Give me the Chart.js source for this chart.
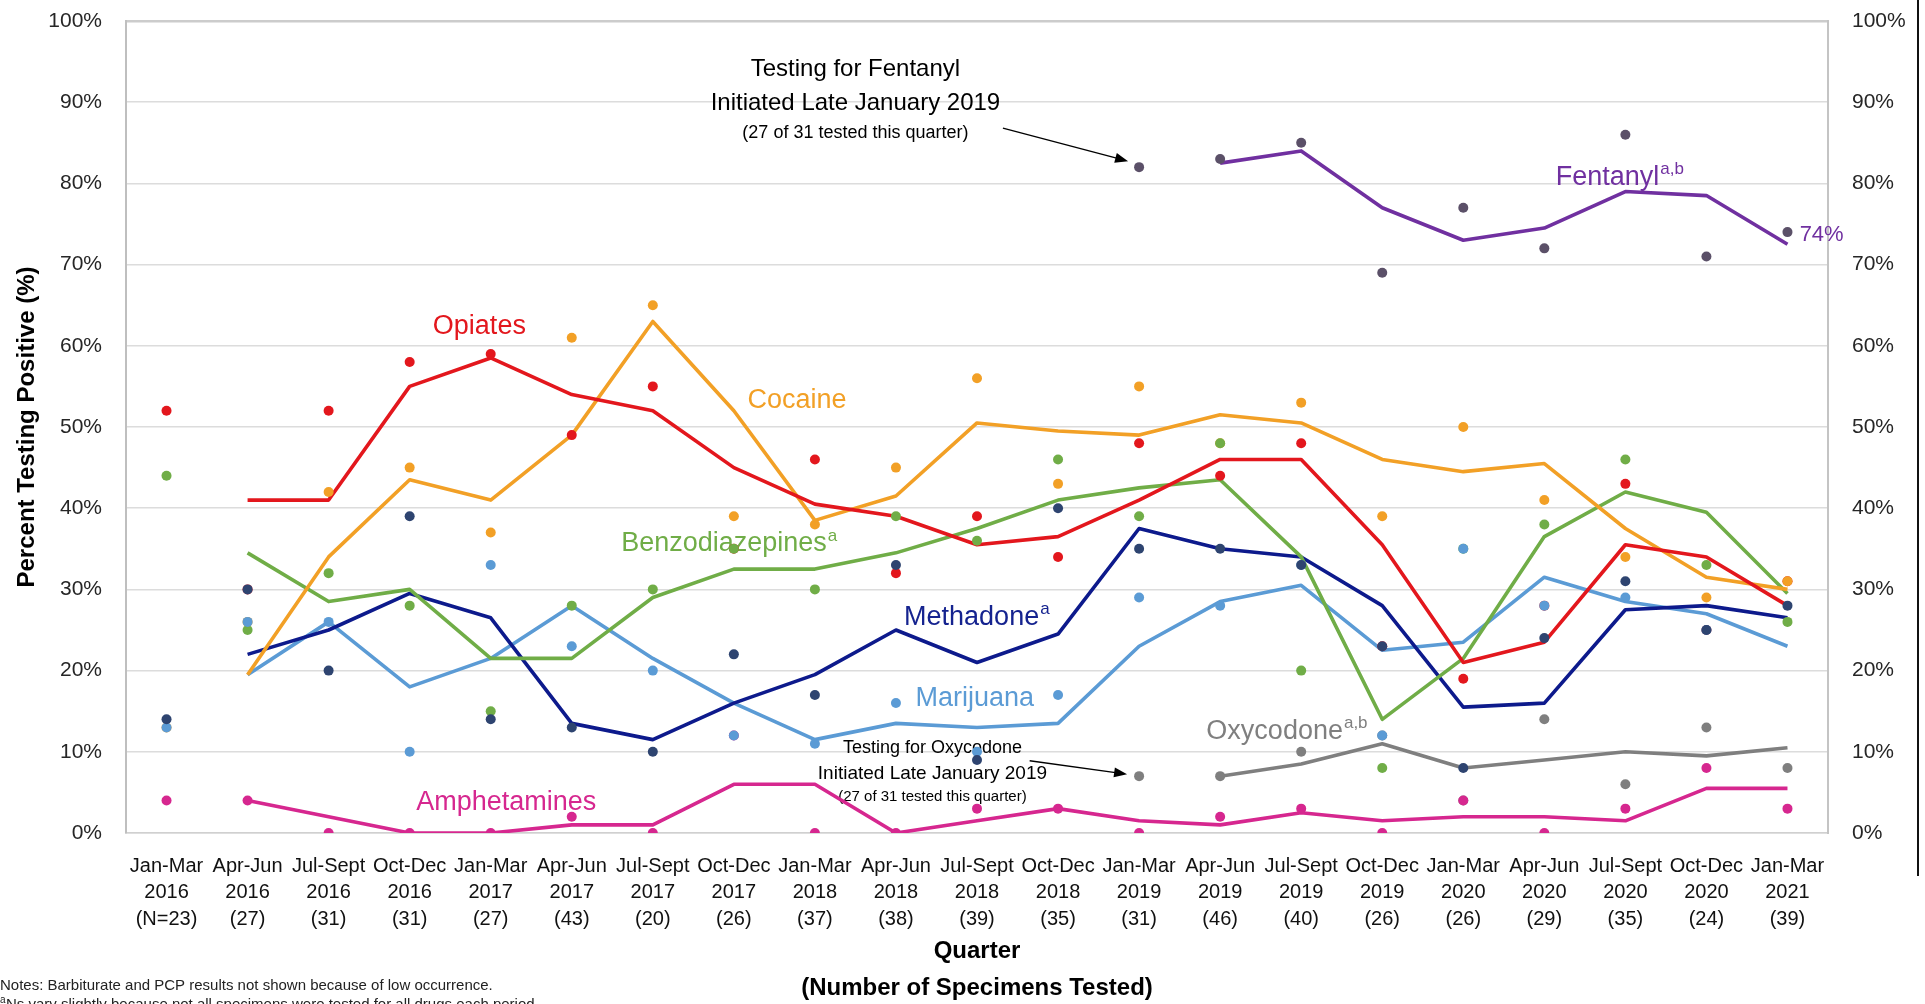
<!DOCTYPE html>
<html>
<head>
<meta charset="utf-8">
<title>Percent Testing Positive by Quarter</title>
<script src="https://cdn.jsdelivr.net/npm/chart.js@4.4.1/dist/chart.umd.min.js"></script>
<style>
  html, body { margin: 0; padding: 0; background: #fff; }
  #wrap { position: relative; width: 1925px; height: 1004px; }
</style>
</head>
<body>
<div id="wrap"><canvas id="myChart"></canvas></div>
<script>
const quarters = ['Jan-Mar', 'Apr-Jun', 'Jul-Sept', 'Oct-Dec', 'Jan-Mar', 'Apr-Jun', 'Jul-Sept', 'Oct-Dec',
  'Jan-Mar', 'Apr-Jun', 'Jul-Sept', 'Oct-Dec', 'Jan-Mar', 'Apr-Jun', 'Jul-Sept', 'Oct-Dec',
  'Jan-Mar', 'Apr-Jun', 'Jul-Sept', 'Oct-Dec', 'Jan-Mar'];
const years = ['2016', '2016', '2016', '2016', '2017', '2017', '2017', '2017', '2018', '2018', '2018',
  '2018', '2019', '2019', '2019', '2019', '2020', '2020', '2020', '2020', '2021'];
const specimens = ['(N=23)', '(27)', '(31)', '(31)', '(27)', '(43)', '(20)', '(26)', '(37)', '(38)', '(39)',
  '(35)', '(31)', '(46)', '(40)', '(26)', '(26)', '(29)', '(35)', '(24)', '(39)'];
const yTicks = [0, 10, 20, 30, 40, 50, 60, 70, 80, 90, 100];

// quarterly results (dots)
const opiates      = [52, 30, 52, 58, 59, 49, 55, 35, 46, 32, 39, 34, 48, 44, 48, 23, 19, 28, 43, 25, 31];
const cocaine      = [13, 26, 42, 45, 37, 61, 65, 39, 38, 45, 56, 43, 55, 48, 53, 39, 50, 41, 34, 29, 31];
const benzo        = [44, 25, 32, 28, 15, 28, 30, 35, 30, 39, 36, 46, 39, 48, 20, 8, 35, 38, 46, 33, 26];
const methadone    = [14, 30, 20, 39, 14, 13, 10, 22, 17, 33, 9, 40, 35, 35, 33, 23, 8, 24, 31, 25, 28];
const marijuana    = [13, 26, 26, 10, 33, 23, 20, 12, 11, 16, 10, 17, 29, 28, 33, 12, 35, 28, 29, 25, null];
const amphetamines = [4, 4, 0, 0, 0, 2, 0, 12, 0, 0, 3, 3, 0, 2, 3, 0, 4, 0, 3, 8, 3];
const oxycodone    = [null, null, null, null, null, null, null, null, null, null, null, null,
  7, 7, 10, 12, 4, 14, 6, 13, 8];
const fentanyl     = [null, null, null, null, null, null, null, null, null, null, null, null,
  82, 83, 85, 69, 77, 72, 86, 71, 74];

// two-quarter averages (lines)
const opiatesAvg   = [null, 41, 41, 55, 58.5, 54, 52, 45, 40.5, 39, 35.5, 36.5, 41, 46, 46, 35.5, 21, 23.5, 35.5, 34, 28];
const cocaineAvg   = [null, 19.5, 34, 43.5, 41, 49, 63, 52, 38.5, 41.5, 50.5, 49.5, 49, 51.5, 50.5, 46, 44.5, 45.5, 37.5, 31.5, 30];
const benzoAvg     = [null, 34.5, 28.5, 30, 21.5, 21.5, 29, 32.5, 32.5, 34.5, 37.5, 41, 42.5, 43.5, 34, 14, 21.5, 36.5, 42, 39.5, 29.5];
const methadoneAvg = [null, 22, 25, 29.5, 26.5, 13.5, 11.5, 16, 19.5, 25, 21, 24.5, 37.5, 35, 34, 28, 15.5, 16, 27.5, 28, 26.5];
const marijuanaAvg = [null, 19.5, 26, 18, 21.5, 28, 21.5, 16, 11.5, 13.5, 13, 13.5, 23, 28.5, 30.5, 22.5, 23.5, 31.5, 28.5, 27, 23];
const amphAvg      = [null, 4, 2, 0, 0, 1, 1, 6, 6, 0, 1.5, 3, 1.5, 1, 2.5, 1.5, 2, 2, 1.5, 5.5, 5.5];
const oxyAvg       = [null, null, null, null, null, null, null, null, null, null, null, null, null,
  7, 8.5, 11, 8, 9, 10, 9.5, 10.5];
const fentAvg      = [null, null, null, null, null, null, null, null, null, null, null, null, null,
  82.5, 84, 77, 73, 74.5, 79, 78.5, 72.5];

const FONT = '"Liberation Sans", Arial, sans-serif';
Chart.defaults.font.family = FONT;

// series name labels: [category position, value position]
const seriesLabels = [
  { text: 'Opiates', sup: '', color: '#e3171d', at: [3.86, 62.4], align: 'center' },
  { text: 'Cocaine', sup: '', color: '#f2a026', at: [7.78, 53.3], align: 'center' },
  { text: 'Benzodiazepines', sup: 'a', color: '#70ad47', at: [5.61, 35.6], align: 'left' },
  { text: 'Methadone', sup: 'a', color: '#15238f', at: [9.1, 26.5], align: 'left' },
  { text: 'Marijuana', sup: '', color: '#5b9bd5', at: [9.24, 16.5], align: 'left' },
  { text: 'Oxycodone', sup: 'a,b', color: '#7f7f7f', at: [12.83, 12.45], align: 'left' },
  { text: 'Amphetamines', sup: '', color: '#d6278f', at: [3.08, 3.7], align: 'left' },
  { text: 'Fentanyl', sup: 'a,b', color: '#7030a0', at: [17.14, 80.7], align: 'left' }
];

function drawText(ctx, text, sup, px, py, size, color, align) {
  const main = size + 'px ' + FONT;
  const small = Math.round(size * 0.62) + 'px ' + FONT;
  ctx.font = main;
  const w = ctx.measureText(text).width;
  ctx.font = small;
  const sw = sup ? ctx.measureText(sup).width + 1 : 0;
  const left = align === 'center' ? px - (w + sw) / 2 : px;
  ctx.textAlign = 'left';
  ctx.textBaseline = 'middle';
  ctx.fillStyle = color;
  ctx.font = main;
  ctx.fillText(text, left, py);
  if (sup) {
    ctx.font = small;
    ctx.fillText(sup, left + w + 1, py - size * 0.3);
  }
}

function arrow(ctx, x1, y1, x2, y2) {
  const a = Math.atan2(y2 - y1, x2 - x1);
  ctx.strokeStyle = '#000';
  ctx.fillStyle = '#000';
  ctx.lineWidth = 1.3;
  ctx.beginPath();
  ctx.moveTo(x1, y1);
  ctx.lineTo(x2 - 8 * Math.cos(a), y2 - 8 * Math.sin(a));
  ctx.stroke();
  ctx.beginPath();
  ctx.moveTo(x2, y2);
  ctx.lineTo(x2 - 13 * Math.cos(a) + 5 * Math.sin(a), y2 - 13 * Math.sin(a) - 5 * Math.cos(a));
  ctx.lineTo(x2 - 13 * Math.cos(a) - 5 * Math.sin(a), y2 - 13 * Math.sin(a) + 5 * Math.cos(a));
  ctx.closePath();
  ctx.fill();
}

const textPlugin = {
  id: 'textPlugin',
  beforeDatasetsDraw(chart) {
    const { ctx, scales: { x, y } } = chart;
    ctx.save();
    seriesLabels.forEach(l => {
      drawText(ctx, l.text, l.sup, x.getPixelForValue(l.at[0]), y.getPixelForValue(l.at[1]), 27, l.color, l.align);
    });
    drawText(ctx, '74%', '', x.getPixelForValue(20.15), y.getPixelForValue(73.6), 22, '#7030a0', 'left');

    // fentanyl note
    const fx = x.getPixelForValue(8.5);
    drawText(ctx, 'Testing for Fentanyl', '', fx, y.getPixelForValue(94.0), 24, '#000', 'center');
    drawText(ctx, 'Initiated Late January 2019', '', fx, y.getPixelForValue(89.8), 24, '#000', 'center');
    drawText(ctx, '(27 of 31 tested this quarter)', '', fx, y.getPixelForValue(86.2), 18, '#000', 'center');
    const fdx = x.getPixelForValue(12), fdy = y.getPixelForValue(fentanyl[12]);
    arrow(ctx, x.getPixelForValue(10.32), y.getPixelForValue(86.8), fdx - 11, fdy - 6);

    // oxycodone note
    const ox = x.getPixelForValue(9.45);
    drawText(ctx, 'Testing for Oxycodone', '', ox, y.getPixelForValue(10.5), 18, '#000', 'center');
    drawText(ctx, 'Initiated Late January 2019', '', ox, y.getPixelForValue(7.3), 19, '#000', 'center');
    drawText(ctx, '(27 of 31 tested this quarter)', '', ox, y.getPixelForValue(4.5), 15, '#000', 'center');
    const odx = x.getPixelForValue(12), ody = y.getPixelForValue(oxycodone[12]);
    arrow(ctx, x.getPixelForValue(10.65), y.getPixelForValue(8.9), odx - 12, ody - 2);
    ctx.restore();
  },
  afterDraw(chart) {
    const ctx = chart.ctx;
    ctx.save();
    drawText(ctx, 'Notes: Barbiturate and PCP results not shown because of low occurrence.', '', 0, 986, 15, '#222', 'left');
    ctx.font = '10px ' + FONT;
    ctx.fillStyle = '#222';
    ctx.textBaseline = 'middle';
    ctx.fillText('a', 0, 1000);
    drawText(ctx, 'Ns vary slightly because not all specimens were tested for all drugs each period.', '', 6, 1005, 15, '#222', 'left');
    ctx.strokeStyle = '#111';
    ctx.lineWidth = 2;
    ctx.beginPath();
    ctx.moveTo(1918, 0);
    ctx.lineTo(1918, 876);
    ctx.stroke();
    ctx.restore();
  }
};

function dots(label, data, color, order) {
  return {
    label: label, data: data, showLine: false, order: order,
    pointRadius: 5, pointBorderWidth: 0, pointBackgroundColor: color, borderColor: color
  };
}
function avgLine(label, data, color, order) {
  return {
    label: label, data: data, order: order, borderColor: color, borderWidth: 3.6,
    pointRadius: 0, tension: 0, borderJoinStyle: 'round', spanGaps: false
  };
}

// pin the vertical axes so the plot area matches the original
function fixY(width) {
  return s => {
    s.width = width;
    s.paddingTop = 0;
    s.paddingBottom = 0;
  };
}

const ctx = document.getElementById('myChart').getContext('2d');
const chart = new Chart(ctx, {
  type: 'line',
  data: {
    labels: quarters.map((q, i) => [q, years[i], specimens[i]]),
    datasets: [
      avgLine('Amphetamines avg', amphAvg, '#d6278f', 20),
      avgLine('Oxycodone avg', oxyAvg, '#7f7f7f', 19),
      avgLine('Marijuana avg', marijuanaAvg, '#5b9bd5', 18),
      avgLine('Methadone avg', methadoneAvg, '#0d1a8c', 17),
      avgLine('Benzodiazepines avg', benzoAvg, '#70ad47', 16),
      avgLine('Cocaine avg', cocaineAvg, '#f2a026', 15),
      avgLine('Opiates avg', opiatesAvg, '#e3171d', 14),
      avgLine('Fentanyl avg', fentAvg, '#7030a0', 13),
      dots('Opiates', opiates, '#e3171d', 7),
      dots('Oxycodone', oxycodone, '#7f7f7f', 6),
      dots('Cocaine', cocaine, '#f2a026', 5),
      dots('Amphetamines', amphetamines, '#d6278f', 4),
      dots('Benzodiazepines', benzo, '#70ad47', 3),
      dots('Marijuana', marijuana, '#5b9bd5', 2),
      dots('Methadone', methadone, '#2e4470', 1),
      dots('Fentanyl', fentanyl, '#5b5068', 0)
    ]
  },
  options: {
    responsive: true,
    maintainAspectRatio: false,
    animation: false,
    events: [],
    layout: { padding: { top: 21, left: 0, right: 0, bottom: 0 } },
    plugins: {
      legend: { display: false },
      tooltip: { enabled: false }
    },
    scales: {
      x: {
        offset: true,
        grid: { display: false, drawTicks: false },
        border: { display: true, color: '#d0d0d0', width: 1.5 },
        ticks: {
          color: '#111', font: { size: 20, lineHeight: 1.32 }, padding: 20,
          maxRotation: 0, autoSkip: false
        },
        title: {
          display: true,
          text: ['Quarter', '(Number of Specimens Tested)'],
          color: '#000',
          font: { size: 24, weight: 'bold', lineHeight: 1.54 },
          padding: { top: 0, bottom: -3 }
        },
        afterFit: s => { s.height = 171; }
      },
      y: {
        min: 0, max: 100,
        afterBuildTicks: s => { s.ticks = yTicks.map(v => ({ value: v })); },
        grid: {
          drawTicks: false,
          color: c => c.tick && c.tick.value === 100 ? '#cccccc' : '#dcdcdc',
          lineWidth: c => c.tick && c.tick.value === 100 ? 2.5 : 1.5
        },
        border: { display: true, color: '#bfbfbf', width: 2 },
        ticks: { color: '#262626', font: { size: 21 }, padding: 24, callback: v => v + '%' },
        title: {
          display: true, text: 'Percent Testing Positive (%)', color: '#000',
          font: { size: 24, weight: 'bold' }, padding: { top: 13, bottom: 0 }
        },
        afterFit: fixY(126)
      },
      y2: {
        position: 'right',
        min: 0, max: 100,
        afterBuildTicks: s => { s.ticks = yTicks.map(v => ({ value: v })); },
        grid: { display: false, drawTicks: false },
        border: { display: true, color: '#c4c4c4', width: 2 },
        ticks: { color: '#262626', font: { size: 21 }, padding: 24, callback: v => v + '%' },
        afterFit: fixY(97)
      }
    }
  },
  plugins: [textPlugin]
});
</script>
</body>
</html>
